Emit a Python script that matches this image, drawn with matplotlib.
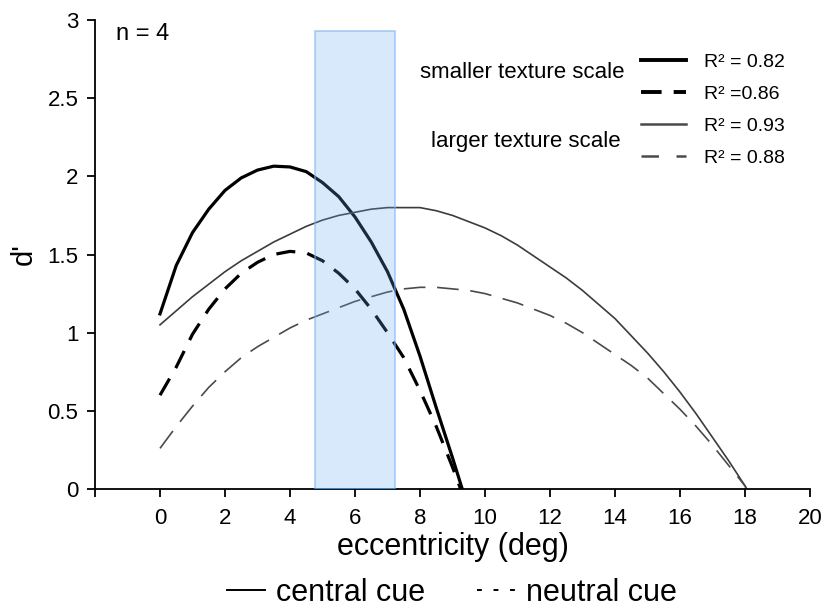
import matplotlib

matplotlib.use("Agg")
import matplotlib.pyplot as plt
from matplotlib.lines import Line2D

plt.rcParams["font.family"] = ["Liberation Sans", "DejaVu Sans"]

# ---- data ----
ecc_small = [0, 0.5, 1, 1.5, 2, 2.5, 3, 3.5, 4, 4.5, 5, 5.5, 6, 6.5, 7, 7.5, 8, 8.5, 9, 9.3]
dprime_small_central = [1.12, 1.43, 1.64, 1.79, 1.91, 1.99, 2.04, 2.065, 2.06, 2.03,
                        1.96, 1.87, 1.74, 1.58, 1.39, 1.15, 0.85, 0.52, 0.20, 0.0]

ecc_small_neutral = [0, 0.5, 1, 1.5, 2, 2.5, 3, 3.5, 4, 4.5, 5, 5.5, 6, 6.5, 7, 7.5, 8, 8.5, 9, 9.25]
dprime_small_neutral = [0.60, 0.78, 0.99, 1.15, 1.28, 1.38, 1.45, 1.50, 1.52, 1.51,
                        1.46, 1.38, 1.28, 1.15, 1.00, 0.84, 0.63, 0.40, 0.14, 0.0]

ecc_large = [0, 0.5, 1, 1.5, 2, 2.5, 3, 3.5, 4, 4.5, 5, 5.5, 6, 6.5, 7, 7.5, 8, 8.5, 9,
             9.5, 10, 10.5, 11, 11.5, 12, 12.5, 13, 13.5, 14, 14.5, 15, 15.5, 16, 16.5,
             17, 17.5, 18, 18.05]
dprime_large_central = [1.05, 1.14, 1.23, 1.31, 1.39, 1.46, 1.52, 1.58, 1.63, 1.68,
                        1.72, 1.75, 1.77, 1.79, 1.80, 1.80, 1.80, 1.78, 1.75,
                        1.71, 1.67, 1.62, 1.56, 1.49, 1.42, 1.35, 1.27, 1.18, 1.09,
                        0.98, 0.87, 0.75, 0.62, 0.48, 0.33, 0.18, 0.02, 0.0]
dprime_large_neutral = [0.26, 0.40, 0.53, 0.65, 0.75, 0.84, 0.91, 0.97, 1.03, 1.08,
                        1.12, 1.16, 1.20, 1.23, 1.26, 1.28, 1.29, 1.29, 1.28,
                        1.27, 1.25, 1.22, 1.19, 1.15, 1.11, 1.06, 1.00, 0.93, 0.86,
                        0.79, 0.71, 0.61, 0.51, 0.40, 0.28, 0.15, 0.02, 0.0]

band_start = 4.77
band_end = 7.23
band_top = 2.93

r2_labels = ["R² = 0.82", "R² =0.86", "R² = 0.93", "R² = 0.88"]
group_labels = ["smaller texture scale", "larger texture scale"]

xticks = list(range(-2, 21, 2))
xtick_labels = [""] + [str(v) for v in range(0, 21, 2)]
yticks = [0, 0.5, 1, 1.5, 2, 2.5, 3]
ytick_labels = ["0", "0.5", "1", "1.5", "2", "2.5", "3"]

W, H = 827, 610
fig = plt.figure(figsize=(W / 100, H / 100), dpi=100)
ax = fig.add_axes([95 / W, 1 - 489 / H, (810 - 95) / W, (489 - 20) / H])

ax.plot(ecc_small, dprime_small_central, color="black", lw=2.3)
ax.plot(ecc_small_neutral, dprime_small_neutral, color="black", lw=2.3, dashes=(6, 3.8))
ax.plot(ecc_large, dprime_large_central, color="#3c3c3c", lw=1.2)
ax.plot(ecc_large, dprime_large_neutral, color="#4a4a4a", lw=1.2, dashes=(13, 7))

# shaded band, drawn on top of the curves
ax.bar(band_start, band_top, width=band_end - band_start, align="edge",
       color=(107 / 255, 171 / 255, 247 / 255, 0.25),
       edgecolor=(122 / 255, 182 / 255, 242 / 255, 0.6), linewidth=1.3, zorder=5)

ax.set_xlim(-2, 20)
ax.set_ylim(0, 3)
ax.set_xticks(xticks)
ax.set_xticklabels(xtick_labels)
ax.set_yticks(yticks)
ax.set_yticklabels(ytick_labels)
ax.tick_params(axis="both", direction="out", length=6, width=1.3, labelsize=16, colors="black")
ax.tick_params(axis="x", pad=8)
ax.tick_params(axis="y", pad=6)
for side in ["top", "right"]:
    ax.spines[side].set_visible(False)
for side in ["left", "bottom"]:
    ax.spines[side].set_linewidth(1.3)

ax.set_xlabel("eccentricity (deg)", fontsize=22, labelpad=2)
ax.set_ylabel("d'", fontsize=21, labelpad=7)

fig.text(116 / W, 1 - 34 / H, "n = 4", fontsize=17, va="center", ha="left")

# legend with R² values
handles = [
    Line2D([], [], color="black", lw=2.8),
    Line2D([], [], color="black", lw=2.8, dashes=(5.3, 3.1)),
    Line2D([], [], color="#4a4a4a", lw=1.8),
    Line2D([], [], color="#4a4a4a", lw=1.8, dashes=(7, 7)),
]
fig.legend(handles, r2_labels, loc="upper left", bbox_to_anchor=(641 / W, 1 - 53 / H),
           frameon=False, fontsize=14, handlelength=2.3, handletextpad=0.95,
           labelspacing=0.75, borderpad=0, borderaxespad=0)

fig.text(625 / W, 1 - 73 / H, group_labels[0], fontsize=16, ha="right", va="center")
fig.text(621 / W, 1 - 142 / H, group_labels[1], fontsize=16, ha="right", va="center")

# cue legend under the axis
cue_handles = [
    Line2D([], [], color="black", lw=1.4),
    Line2D([], [], color="black", lw=1.4, dashes=(2.5, 6)),
]
fig.legend(cue_handles, ["central cue", "neutral cue"], loc="center",
           bbox_to_anchor=(452 / W, 1 - 593 / H), ncol=2, frameon=False,
           fontsize=22, handlelength=1.25, handletextpad=0.35, columnspacing=1.7,
           borderpad=0, borderaxespad=0)

fig.savefig("out.png", dpi=100)
